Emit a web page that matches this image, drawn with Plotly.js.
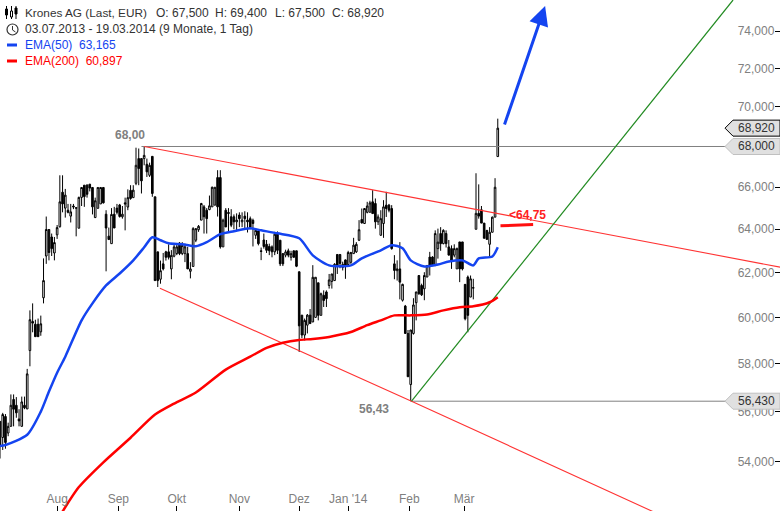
<!DOCTYPE html>
<html>
<head>
<meta charset="utf-8">
<script src="https://cdn.plot.ly/plotly-3.0.1.min.js"></script>
<style>html,body{margin:0;padding:0;background:#fff}#chart{width:780px;height:511px}</style>
</head>
<body>
<div id="chart"></div>
<script>
const opens = [
55.60,54.95,55.80,55.13,55.40,56.50,56.26,55.70,55.40,56.26,
56.11,58.56,59.82,59.70,59.70,59.37,60.87,62.76,63.99,63.64,
62.90,63.74,64.12,65.76,65.00,64.90,64.62,65.10,65.02,64.05,
65.51,66.10,66.10,66.15,65.99,64.55,64.99,65.20,65.99,64.71,
63.68,63.33,64.71,65.00,65.15,64.59,65.25,65.05,65.85,65.50,
66.19,67.40,67.40,67.40,67.12,66.58,67.51,65.54,62.95,61.70,
62.40,62.95,62.95,62.17,62.75,62.87,63.36,62.87,62.87,62.87,
62.06,62.28,63.49,63.98,64.43,65.06,64.90,64.93,65.06,65.14,
66.47,66.47,63.18,64.90,64.79,64.59,64.59,64.35,64.67,64.35,
64.62,64.43,64.50,64.42,63.72,63.92,63.00,63.50,63.30,63.20,
63.18,62.95,63.80,63.49,62.87,62.80,63.00,62.70,63.00,63.00,
62.04,60.10,59.23,59.66,60.10,59.80,60.00,61.54,60.09,60.98,
61.13,61.42,61.60,61.64,62.83,62.83,62.24,62.58,62.37,62.47,
62.87,62.95,63.49,64.46,64.27,64.80,64.80,65.30,65.22,64.35,
63.72,64.27,65.14,65.14,64.98,62.40,62.09,62.17,60.76,
60.50,59.30,57.12,59.30,60.65,61.87,61.42,61.27,61.80,62.71,
62.71,62.32,63.10,63.80,63.33,63.80,63.18,63.10,62.80,62.17,63.41,
63.41,61.47,61.80,60.90,61.30,64.00,64.75,64.92,64.29,63.95,
63.30,63.86,64.57,67.50];
const highs = [
55.60,55.95,55.90,55.55,56.71,56.71,56.60,56.10,56.62,56.62,
57.78,60.31,60.62,59.90,59.95,60.08,62.65,64.60,63.99,63.80,
63.64,64.20,66.58,66.58,65.92,65.20,65.20,65.20,65.02,65.55,
65.99,66.10,66.15,66.15,65.99,65.50,65.99,65.99,65.99,64.90,
64.08,65.00,65.06,65.20,65.20,65.10,65.50,65.90,66.10,66.10,
67.94,67.90,67.40,68.00,67.40,67.20,67.51,65.54,62.95,62.55,
62.90,63.00,63.30,63.03,63.30,63.33,63.40,63.40,63.33,63.18,
62.48,64.10,64.03,64.20,65.25,65.15,65.00,65.60,66.03,66.00,
66.83,66.83,64.50,65.00,65.00,64.95,64.70,64.75,64.80,64.80,
64.85,64.80,64.60,64.50,64.03,63.95,63.15,63.80,63.50,63.33,
63.25,63.88,63.90,63.49,62.87,63.05,63.10,63.00,63.00,63.00,
62.04,60.10,59.95,60.15,60.37,62.34,61.80,61.54,61.10,61.20,
61.20,61.94,61.94,62.43,62.83,62.83,62.50,62.60,63.00,62.95,
63.60,63.40,64.43,64.98,65.00,65.30,65.35,65.86,65.46,64.70,
64.90,65.38,65.78,65.20,65.14,62.80,62.56,63.40,61.50,
60.55,59.45,59.45,60.85,61.13,61.87,61.50,62.02,62.35,62.95,
62.75,63.95,64.03,64.10,64.00,63.95,63.50,63.25,63.30,63.15,63.41,
63.41,61.47,61.87,61.87,61.72,66.68,66.14,65.10,64.29,63.95,
64.10,64.60,66.44,69.40];
const lows = [
54.11,54.45,54.50,55.00,55.40,55.40,55.75,55.40,55.40,56.10,
56.11,57.89,59.35,59.16,59.16,59.20,60.62,62.40,62.56,62.76,
62.56,63.55,64.08,64.80,64.55,64.75,64.32,64.95,63.67,64.05,
65.10,65.06,65.50,65.80,64.70,64.55,64.99,65.20,65.22,62.06,
63.52,63.33,64.06,64.70,64.55,64.50,63.95,64.90,65.40,65.50,
66.10,66.10,65.70,67.07,66.50,66.50,65.54,61.64,61.35,61.50,
62.10,62.55,62.60,61.70,62.70,62.80,62.80,62.80,62.48,62.17,
61.74,62.28,63.40,63.88,64.43,63.80,63.80,64.90,65.06,65.14,
64.60,63.10,63.18,64.11,63.90,64.10,64.00,63.95,64.10,64.10,
64.05,63.85,64.00,63.20,63.55,63.25,62.57,63.10,62.90,62.80,
62.70,62.80,62.85,62.30,62.30,62.70,62.70,62.55,62.70,62.25,
58.50,59.10,59.00,59.30,59.73,59.80,60.00,59.87,60.09,60.46,
60.46,61.28,61.28,61.64,61.94,62.20,62.10,61.72,62.30,62.40,
62.87,62.90,63.45,64.27,64.27,64.75,64.80,64.74,64.03,64.20,
63.70,63.60,64.58,64.80,63.05,61.70,61.64,60.80,60.70,
59.30,57.45,56.43,59.25,59.87,61.00,60.95,60.76,61.80,61.87,
62.30,62.32,62.64,63.00,63.30,63.15,62.80,62.17,62.70,62.17,61.57,
62.10,59.87,59.35,60.90,60.80,64.00,64.50,64.29,63.58,63.50,
62.75,63.86,64.57,67.50];
const closes = [
54.65,55.88,54.75,55.40,56.26,56.10,55.95,55.62,56.40,56.16,
57.57,59.90,59.75,59.16,59.16,59.72,61.64,63.99,62.92,63.10,
63.38,64.08,65.30,65.20,65.62,64.80,64.82,65.06,65.00,65.51,
65.99,65.55,65.66,65.96,65.06,65.35,65.99,65.99,65.25,64.06,
63.52,64.70,64.06,64.80,64.60,64.71,65.20,65.50,65.46,65.86,
67.07,66.91,66.31,67.56,66.75,67.07,65.70,61.64,61.64,62.09,
62.17,62.70,62.70,62.79,63.18,63.18,62.87,63.25,63.18,62.17,
62.17,64.03,64.03,64.14,65.22,64.59,64.50,65.11,66.00,66.00,
65.06,63.18,64.43,64.11,64.75,64.19,64.35,64.43,64.50,64.43,
64.50,64.35,64.10,64.27,63.95,63.33,62.97,63.20,63.02,63.00,
62.95,63.77,63.02,62.40,62.40,62.95,62.80,62.87,62.70,62.29,
59.63,59.23,59.87,60.10,59.73,61.79,61.79,60.09,61.05,60.75,
60.83,61.67,61.94,62.38,62.31,62.42,62.38,62.31,62.92,62.92,
63.26,63.30,63.98,64.30,64.98,65.10,65.25,64.74,64.35,64.58,
64.50,65.06,64.98,64.90,63.10,62.10,62.17,61.57,61.47,
59.30,57.45,59.45,60.55,61.13,61.05,61.00,61.87,62.32,62.32,
62.32,63.80,63.40,63.33,63.95,63.33,62.80,62.56,63.10,63.10,62.17,
62.17,59.94,60.09,61.72,61.32,64.75,64.62,64.29,63.58,63.53,
63.86,64.57,66.00,68.92];

const ema50Days = [0,2,10,15,18,21,24,30,34,39,44,49,53,56,59,62,67,72,76,81,86,92,96,102,110,115,121,129,133,140,144,148,151,156,161,165,170,174,176,181,183];
const ema50 = [54.61,54.65,55.06,56.00,56.83,57.62,58.30,59.87,60.62,61.42,61.96,62.56,63.16,63.63,63.49,63.35,63.30,63.21,63.40,63.77,63.91,64.05,63.95,63.81,63.58,62.79,62.33,62.33,62.65,63.02,63.26,63.12,62.56,62.28,62.37,62.51,62.56,62.33,62.65,62.74,63.165];
const ema200Days = [23,29,38,48,57,64,72,83,92,98,104,110,115,121,129,135,140,145,151,157,163,169,174,180,183];
const ema200 = [52.05,52.99,53.96,54.94,55.88,56.33,56.79,57.75,58.30,58.68,58.90,59.02,59.06,59.15,59.36,59.66,59.87,60.09,60.09,60.13,60.31,60.45,60.49,60.67,60.897];

const upperTrendDays = [53,286.8];
const upperTrend = [68.00,62.25];
const lowerTrendDays = [58.8,151.3,240];
const lowerTrend = [61.30,56.43,52.05];
const greenTrendDays = [151.3,269.5];
const greenTrend = [56.43,75.70];
const resistanceDays = [52,267];
const resistance = [68.00,68.00];
const supportDays = [151,267];
const support = [56.43,56.43];
const markerDays = [184,196];
const markerLevel = [64.16,64.22];

const monthDays = [21,43.5,65,88,110,128,150.5,170.6];
const monthLabels = ['Aug','Sep','Okt','Nov','Dez',"Jan '14",'Feb','Mär'];
const priceTicks = [54,56,58,60,62,64,66,70,72,74];
const priceLabels = ['54,000','56,000','58,000','60,000','62,000','64,000','66,000','70,000','72,000','74,000'];

const days = opens.map((_, i) => i);
const W = 780, H = 511;
const yLo = Math.log10(52.07), yHi = Math.log10(75.7), xHi = 286.76;
const fx = px => px / W;
const fy = py => 1 - py / H;
const fp = p => (Math.log10(p) - yLo) / (yHi - yLo);

const lineTrace = (x, y, color, width, spline) => ({type:'scatter', mode:'lines', x, y,
  line: spline ? {color, width, shape:'spline', smoothing:0.7} : {color, width}, hoverinfo:'skip', showlegend:false});
const traces = [
  {type:'candlestick', x:days, open:opens, high:highs, low:lows, close:closes,
   increasing:{line:{color:'#000',width:1}, fillcolor:'#fff'},
   decreasing:{line:{color:'#000',width:1}, fillcolor:'#000'},
   whiskerwidth:0, hoverinfo:'skip', showlegend:false},
  lineTrace(resistanceDays, resistance, '#808080', 1),
  lineTrace(supportDays, support, '#808080', 1),
  lineTrace(upperTrendDays, upperTrend, '#ff3333', 1.1),
  lineTrace(lowerTrendDays, lowerTrend, '#ff3333', 1.1),
  lineTrace(greenTrendDays, greenTrend, '#228b22', 1.2),
  lineTrace(ema200Days, ema200, '#ff0000', 2.5, true),
  lineTrace(ema50Days, ema50, '#1444f0', 2.5, true),
  lineTrace(markerDays, markerLevel, '#ff0f0f', 3)
];

const font = 'Liberation Sans, Arial, sans-serif';
const txt = (x, y, text, color, size, extra) => Object.assign({
  xref:'paper', yref:'paper', x:fx(x), y:fy(y), text, showarrow:false, xanchor:'left', yanchor:'middle',
  font:{family:font, size, color}}, extra||{});

const box = (price, stroke) => {
  const yc = fp(price), dy = 8 / H, l = fx(725), m = fx(733), r = fx(780);
  return {type:'path', xref:'paper', yref:'paper',
    path:`M ${l} ${yc} L ${m} ${yc+dy} L ${r} ${yc+dy} L ${r} ${yc-dy} L ${m} ${yc-dy} Z`,
    fillcolor:'#e0e0e0', line:{color:stroke, width:1}, layer:'above'};
};
const pxLine = (x0,y0,x1,y1,color,width) => ({type:'line', xref:'paper', yref:'paper', x0:fx(x0), y0:fy(y0), x1:fx(x1), y1:fy(y1), line:{color,width}, layer:'above'});
const pxRect = (x0,y0,x1,y1,fill) => ({type:'rect', xref:'paper', yref:'paper', x0:fx(x0), y0:fy(y0), x1:fx(x1), y1:fy(y1), fillcolor:fill, line:{color:'#000',width:1}, layer:'above'});

const layout = {
  width:W, height:H, margin:{l:0,r:0,t:0,b:0,pad:0}, paper_bgcolor:'#fff', plot_bgcolor:'#fff', showlegend:false,
  font:{family:font}, boxgap:0.15,
  xaxis:{range:[0,xHi], tickmode:'array', tickvals:monthDays, ticktext:monthLabels, ticks:'inside', ticklen:5, tickcolor:'#000', tickwidth:1,
    ticklabelposition:'inside', tickfont:{family:font,size:12,color:'#808080'}, showgrid:false, zeroline:false, showline:false, rangeslider:{visible:false}, fixedrange:true},
  yaxis:{type:'log', range:[yLo,yHi], side:'right', tickmode:'array', tickvals:priceTicks, ticktext:priceLabels, ticks:'inside', ticklen:5, tickcolor:'#000', tickwidth:1,
    ticklabelposition:'inside', tickfont:{family:font,size:12,color:'#808080'}, showgrid:false, zeroline:false, showline:false, fixedrange:true},
  shapes:[
    box(68.0,'#c0c0c0'), box(56.43,'#c0c0c0'), box(68.92,'#000'),
    pxLine(6.5,6,6.5,19,'#000',1), pxLine(11.5,6,11.5,19,'#000',1), pxLine(16,6,16,19,'#000',1),
    pxRect(5.5,9,7.5,15,'#000'), pxRect(10.5,11,12.5,17,'#fff'), pxRect(15,8,17,14,'#000'),
    {type:'circle', xref:'paper', yref:'paper', x0:fx(7), y0:fy(24), x1:fx(18), y1:fy(35), line:{color:'#333',width:1.2}, fillcolor:'rgba(0,0,0,0)', layer:'above'},
    pxLine(12.5,26,12.5,30,'#333',1), pxLine(12.5,30,15.5,32,'#333',1),
    pxLine(7,45,17,45,'#1444f0',3), pxLine(7,61,17,61,'#ff0000',3)
  ],
  annotations:[
    txt(23,13,'Krones AG (Last, EUR)','#333',11.8),
    txt(154,13,'O: 67,500','#333',12),
    txt(213,13,'H: 69,400','#333',12),
    txt(273,13,'L: 67,500','#333',12),
    txt(330,13,'C: 68,920','#333',12),
    txt(23,29,'03.07.2013 - 19.03.2014 (9 Monate, 1 Tag)','#333',12),
    txt(23,45,'EMA(50)&nbsp;&nbsp;63,165','#1444f0',12),
    txt(23,61,'EMA(200)&nbsp;&nbsp;60,897','#ff0000',12),
    txt(113,135,'<b>68,00</b>','#808080',12),
    txt(357,409,'<b>56,43</b>','#808080',12),
    txt(507,215,'<b>&lt;64,75</b>','#ff2020',12),
    txt(756,H*(1-fp(68.92)),'68,920','#333',12,{xanchor:'center'}),
    txt(756,H*(1-fp(68.0)),'68,000','#333',12,{xanchor:'center'}),
    txt(756,H*(1-fp(56.43)),'56,430','#333',12,{xanchor:'center'}),
    {xref:'x', yref:'y', axref:'x', ayref:'y', x:200.4, y:Math.log10(75.37), ax:185.3, ay:Math.log10(69.03),
     showarrow:true, arrowhead:2, arrowsize:1.3, arrowwidth:3, arrowcolor:'#1444f0', text:''}
  ]
};
Plotly.newPlot('chart', traces, layout, {staticPlot:true, displayModeBar:false});
</script>
</body>
</html>
